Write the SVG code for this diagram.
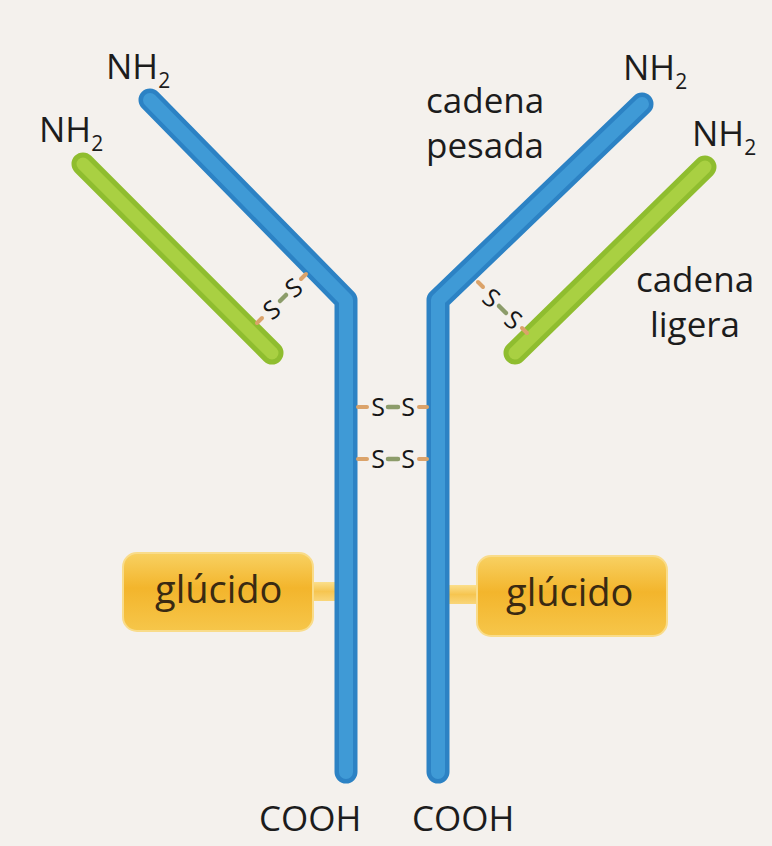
<svg xmlns="http://www.w3.org/2000/svg" width="772" height="846" viewBox="0 0 772 846">
  <style>
    .lbl { font-family: "Open Sans", "Noto Sans", "Liberation Sans", sans-serif; fill: #1c1c1c; }
    .big { font-size: 35px; }
    .sugar { font-size: 38px; fill: #3a2a12; }
    .ss { font-family: "Open Sans", "Noto Sans", "Liberation Sans", sans-serif; font-size: 25px; fill: #161616; text-anchor: middle; dominant-baseline: central; }
    .heavy-edge { fill: none; stroke: #2c82c4; stroke-width: 23; stroke-linecap: round; stroke-linejoin: round; }
    .heavy-core { fill: none; stroke: #3f9ad6; stroke-width: 14; stroke-linecap: round; stroke-linejoin: round; }
    .light-edge { fill: none; stroke: #8fbd2f; stroke-width: 23; stroke-linecap: round; }
    .light-core { fill: none; stroke: #a9d042; stroke-width: 13; stroke-linecap: round; }
    .bond-end { stroke: #dba36a; stroke-width: 4; stroke-linecap: round; }
    .bond-mid { stroke: #8c9c6a; stroke-width: 4.5; stroke-linecap: round; }
    .box { fill: url(#sugarFill); stroke: #f9dc8a; stroke-width: 2; }
    .stem { fill: url(#stemFill); }
  </style>
  <defs>
    <linearGradient id="sugarFill" x1="0" y1="0" x2="0" y2="1">
      <stop offset="0" stop-color="#f8d162"/>
      <stop offset="0.45" stop-color="#f3b52c"/>
      <stop offset="1" stop-color="#f6c64a"/>
    </linearGradient>
    <linearGradient id="stemFill" x1="0" y1="0" x2="0" y2="1">
      <stop offset="0" stop-color="#fbdf8c"/>
      <stop offset="0.5" stop-color="#f6c550"/>
      <stop offset="1" stop-color="#f9d67a"/>
    </linearGradient>
  </defs>

  <!-- paper -->
  <rect x="0" y="0" width="772" height="846" fill="#f4f1ed"/>

  <!-- carbohydrate attachments (stems sit under the heavy chains) -->
  <g id="glucido-left">
    <rect class="stem" x="300" y="582" width="54" height="19" rx="9.5"/>
    <rect class="box" x="123" y="553" width="190" height="78" rx="14"/>
    <text class="lbl sugar" x="155" y="603">glúcido</text>
  </g>
  <g id="glucido-right">
    <rect class="stem" x="431" y="585" width="58" height="19" rx="9.5"/>
    <rect class="box" x="477" y="556" width="190" height="80" rx="14"/>
    <text class="lbl sugar" x="506" y="606">glúcido</text>
  </g>

  <!-- heavy chains -->
  <g id="heavy-left">
    <path class="heavy-edge" d="M150,100 L346,300 L346,772"/>
    <path class="heavy-core" d="M150,100 L346,300 L346,772"/>
  </g>
  <g id="heavy-right">
    <path class="heavy-edge" d="M642,104 L438,300 L438,772"/>
    <path class="heavy-core" d="M642,104 L438,300 L438,772"/>
  </g>

  <!-- light chains -->
  <g id="light-left">
    <path class="light-edge" d="M83,164 L272,353"/>
    <path class="light-core" d="M83,164 L272,353"/>
  </g>
  <g id="light-right">
    <path class="light-edge" d="M705,167 L515,353"/>
    <path class="light-core" d="M705,167 L515,353"/>
  </g>

  <!-- disulfide bridges -->
  <g id="connectors">
    <!-- light-left to heavy-left -->
    <line class="bond-end" x1="306" y1="274" x2="301" y2="279"/>
    <line class="bond-mid" x1="286" y1="295" x2="280" y2="301"/>
    <line class="bond-end" x1="262" y1="318" x2="257" y2="323"/>
    <text class="ss" x="293" y="287" transform="rotate(-38 293 287)">S</text>
    <text class="ss" x="271" y="309" transform="rotate(-38 271 309)">S</text>

    <!-- heavy-right to light-right -->
    <line class="bond-end" x1="478" y1="282" x2="483" y2="287"/>
    <line class="bond-mid" x1="499" y1="306" x2="506" y2="313"/>
    <line class="bond-end" x1="522" y1="328" x2="527" y2="333"/>
    <text class="ss" x="492" y="297" transform="rotate(38 492 297)">S</text>
    <text class="ss" x="514" y="319" transform="rotate(38 514 319)">S</text>

    <!-- heavy-left to heavy-right, upper -->
    <line class="bond-end" x1="358" y1="407" x2="367" y2="407"/>
    <line class="bond-mid" x1="388" y1="407" x2="398" y2="407"/>
    <line class="bond-end" x1="419" y1="407" x2="427" y2="407"/>
    <text class="ss" x="378" y="406">S</text>
    <text class="ss" x="408" y="406">S</text>

    <!-- heavy-left to heavy-right, lower -->
    <line class="bond-end" x1="358" y1="459" x2="367" y2="459"/>
    <line class="bond-mid" x1="388" y1="459" x2="398" y2="459"/>
    <line class="bond-end" x1="419" y1="459" x2="427" y2="459"/>
    <text class="ss" x="378" y="458">S</text>
    <text class="ss" x="408" y="458">S</text>
  </g>

  <!-- terminal labels -->
  <g id="labels">
    <text class="lbl big" x="106" y="79">NH<tspan font-size="21" dy="9">2</tspan></text>
    <text class="lbl big" x="39" y="142">NH<tspan font-size="21" dy="9">2</tspan></text>
    <text class="lbl big" x="623" y="80">NH<tspan font-size="21" dy="9">2</tspan></text>
    <text class="lbl big" x="692" y="146">NH<tspan font-size="21" dy="9">2</tspan></text>

    <text class="lbl big" x="426" y="113">cadena</text>
    <text class="lbl big" x="426" y="158">pesada</text>

    <text class="lbl big" x="695" y="292" text-anchor="middle">cadena</text>
    <text class="lbl big" x="695" y="337" text-anchor="middle">ligera</text>

    <text class="lbl big" x="259" y="831">COOH</text>
    <text class="lbl big" x="412" y="831">COOH</text>
  </g>
</svg>
